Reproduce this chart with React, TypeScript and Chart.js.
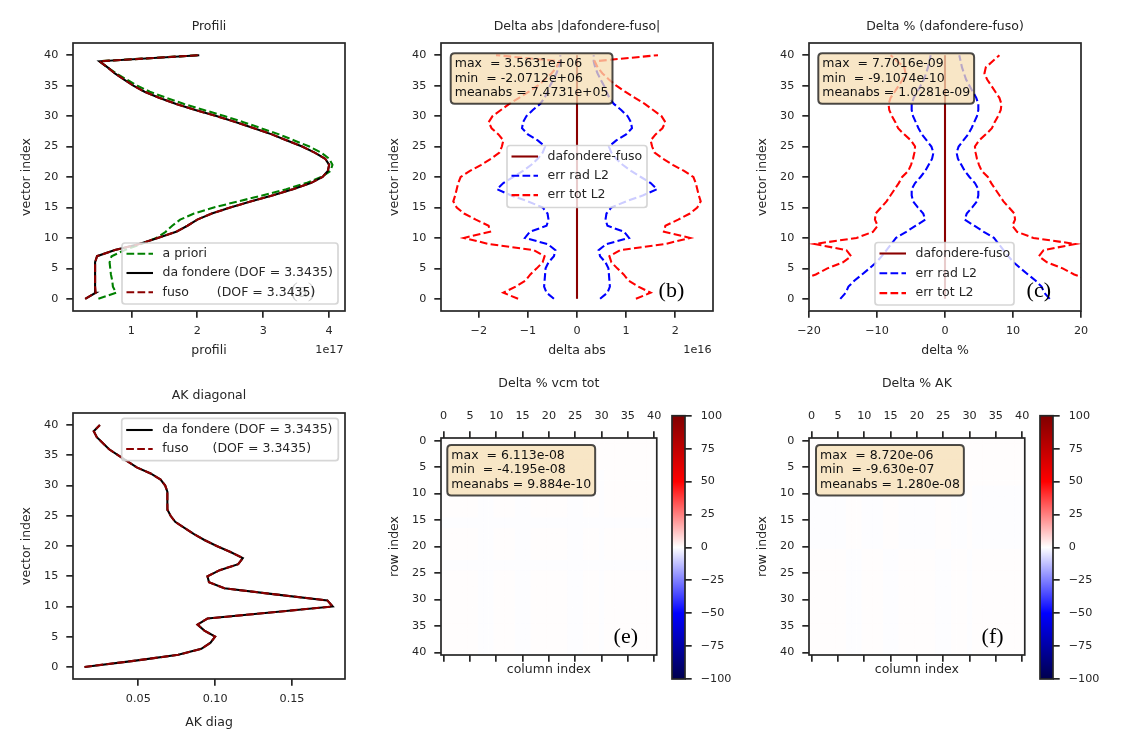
import React, { useEffect, useRef } from 'react';
import { Chart, registerables } from 'chart.js';

Chart.register(...registerables);

const SANS = "'DejaVu Sans', 'Liberation Sans', sans-serif";
const SERIF = "'Liberation Serif', 'DejaVu Serif', serif";
const INK = '#262626';
const TICK_SIZE = 11.2;
const TEXT_SIZE = 12.5;
const LINE_W = 2.08;
const DASH = [7.7, 3.3];
const TICK_LEN = 6.7;
const SPINE_W = 1.7;

const GREEN = '#008000';
const BLACK = '#000000';
const DARKRED = '#8b0000';
const BLUE = '#0000ff';
const RED = '#ff0000';

// ---------------- data ----------------
const vectorIndex = [0, 1, 2, 3, 4, 5, 6, 7, 8, 9, 10, 11, 12, 13, 14, 15, 16, 17, 18, 19, 20,
  21, 22, 23, 24, 25, 26, 27, 28, 29, 30, 31, 32, 33, 34, 35, 36, 37, 38, 39, 40];

// profiles, units of 1e17
const profAPriori = [0.50, 0.77, 0.72, 0.71, 0.69, 0.68, 0.67, 0.70, 0.90, 1.15, 1.38, 1.52, 1.62, 1.74, 1.95,
  2.25, 2.62, 3.00, 3.35, 3.65, 3.88, 4.02, 4.05, 4.00, 3.88, 3.70, 3.47, 3.24, 2.97, 2.70, 2.41, 2.10, 1.80,
  1.53, 1.28, 1.09, 0.93, 0.77, 0.64, 0.515, 2.03];
const profDaFondere = [0.30, 0.46, 0.45, 0.45, 0.45, 0.45, 0.45, 0.48, 0.75, 1.12, 1.40, 1.68, 1.85, 2.00, 2.22,
  2.50, 2.82, 3.15, 3.45, 3.72, 3.90, 3.98, 4.00, 3.94, 3.78, 3.59, 3.36, 3.13, 2.86, 2.59, 2.29, 1.97, 1.68,
  1.42, 1.20, 1.03, 0.89, 0.75, 0.64, 0.515, 2.03];
const profFuso = [0.30, 0.46, 0.45, 0.45, 0.45, 0.45, 0.45, 0.48, 0.75, 1.12, 1.40, 1.68, 1.85, 2.00, 2.22,
  2.50, 2.82, 3.15, 3.45, 3.72, 3.90, 3.98, 4.00, 3.94, 3.78, 3.59, 3.36, 3.13, 2.86, 2.59, 2.29, 1.97, 1.68,
  1.42, 1.20, 1.03, 0.89, 0.75, 0.64, 0.515, 2.03];

// dafondere - fuso (absolute, molec units) and errors (units of 1e16)
const diffAbs = [1.2e5, -3.4e5, 2.1e5, 5.5e5, -1.8e5, 4.0e5, 7.7e5, -6.1e5, 9.8e5, 3.5631e6, -2.0712e6, 1.45e6,
  -8.2e5, 6.4e5, -3.9e5, 1.1e6, -5.6e5, 2.8e5, 8.9e5, -1.3e6, 7.1e5, -4.4e5, 3.3e5, 9.0e5, -6.6e5, 5.2e5,
  -2.5e5, 1.9e5, 1.02e6, -7.8e5, 4.6e5, -3.1e5, 6.0e5, -9.3e5, 2.2e5, 8.1e5, -5.0e5, 3.7e5, -1.5e5, 6.9e5, 2.6e5];
const errRadAbs = [0.47, 0.62, 0.67, 0.66, 0.65, 0.64, 0.58, 0.47, 0.44, 0.60, 1.06, 0.96, 0.62, 0.58, 0.60,
  0.70, 1.00, 1.35, 1.63, 1.50, 1.30, 1.10, 0.93, 0.80, 0.70, 0.65, 0.80, 1.00, 1.12, 1.10, 1.03, 0.90, 0.75,
  0.66, 0.60, 0.55, 0.48, 0.42, 0.37, 0.34, 0.34];
const errTotAbs = [1.20, 1.50, 1.25, 1.05, 0.95, 0.82, 0.70, 0.66, 0.88, 1.80, 2.30, 1.77, 1.80, 2.06, 2.30,
  2.45, 2.52, 2.48, 2.45, 2.42, 2.37, 2.18, 1.95, 1.75, 1.58, 1.53, 1.50, 1.60, 1.74, 1.80, 1.72, 1.55, 1.38,
  1.18, 0.98, 0.80, 0.65, 0.52, 0.42, 0.36, 1.65];

// dafondere - fuso in % and errors in %
const diffPct = [1.1e-9, 4.2e-10, -3.0e-10, 8.5e-10, 2.2e-10, 1.6e-9, 7.7016e-9, 3.3e-10, -9.1074e-10, 5.1e-10,
  1.3e-9, -2.4e-10, 6.6e-10, 9.2e-10, -4.8e-10, 1.9e-9, 7.4e-10, -1.2e-10, 3.9e-10, 1.05e-9, -6.3e-10, 2.7e-10,
  8.8e-10, -3.6e-10, 5.9e-10, 1.4e-9, -7.1e-10, 2.0e-10, 9.6e-10, -5.4e-10, 4.4e-10, 1.2e-9, -2.9e-10, 6.1e-10,
  8.0e-10, -4.1e-10, 3.1e-10, 1.7e-9, -6.8e-10, 5.0e-10, 2.5e-10];
const errRadPct = [15.4, 14.6, 14.2, 13.3, 12.2, 11.1, 10.1, 9.3, 8.6, 7.9, 7.2, 5.7, 4.3, 2.9, 3.2, 4.0, 4.7,
  4.9, 4.9, 4.4, 3.6, 2.9, 2.4, 1.9, 1.7, 2.0, 2.7, 3.4, 3.9, 4.3, 4.7, 4.9, 4.9, 4.6, 4.1, 3.6, 3.1, 2.8,
  2.5, 2.3, 2.1];
const errTotPct = [32.0, 29.0, 25.0, 21.5, 19.0, 17.3, 15.0, 13.8, 14.5, 19.2, 13.0, 10.6, 9.9, 10.3, 10.2, 9.4,
  8.6, 8.0, 7.4, 6.8, 6.3, 5.4, 5.0, 4.7, 4.5, 4.4, 5.0, 6.0, 6.9, 7.3, 7.8, 8.2, 8.3, 8.0, 7.4, 6.8, 6.2,
  5.8, 6.0, 7.0, 8.0];

// averaging kernel diagonal
const akDaFondere = [0.015, 0.047, 0.076, 0.091, 0.097, 0.100, 0.093, 0.0885, 0.095, 0.136, 0.1765, 0.173,
  0.139, 0.106, 0.096, 0.095, 0.103, 0.115, 0.118, 0.110, 0.101, 0.093, 0.086, 0.080, 0.074, 0.071, 0.069,
  0.0689, 0.0689, 0.0689, 0.0675, 0.0645, 0.058, 0.049, 0.043, 0.037, 0.031, 0.027, 0.023, 0.021, 0.025];
const akFuso = [0.015, 0.047, 0.076, 0.091, 0.097, 0.100, 0.093, 0.0885, 0.095, 0.136, 0.1765, 0.173,
  0.139, 0.106, 0.096, 0.095, 0.103, 0.115, 0.118, 0.110, 0.101, 0.093, 0.086, 0.080, 0.074, 0.071, 0.069,
  0.0689, 0.0689, 0.0689, 0.0675, 0.0645, 0.058, 0.049, 0.043, 0.037, 0.031, 0.027, 0.023, 0.021, 0.025];

// tick values
const profTicks = [1, 2, 3, 4];
const absTicks = [-2, -1, 0, 1, 2];
const pctTicks = [-20, -10, 0, 10, 20];
const akTicks = [0.05, 0.1, 0.15];
const indexTicks = [0, 5, 10, 15, 20, 25, 30, 35, 40];
const cbarTicks = [-100, -75, -50, -25, 0, 25, 50, 75, 100];

// statistics text
const statsAbs = ['max  = 3.5631e+06', 'min  = -2.0712e+06', 'meanabs = 7.4731e+05'];
const statsPct = ['max  = 7.7016e-09', 'min  = -9.1074e-10', 'meanabs = 1.0281e-09'];
const statsVcm = ['max  = 6.113e-08', 'min  = -4.195e-08', 'meanabs = 9.884e-10'];
const statsAk = ['max  = 8.720e-06', 'min  = -9.630e-07', 'meanabs = 1.280e-08'];

// sign of the (tiny) % differences in the 41x41 matrices: '+' positive, '-' negative
const ROW_P = '+++++++++++++++++++++++++++++++++++++++++';
const ROW_M = '-----------------------------------------';
const ROW_C = '+++++++---++++---+++++++---+++-++++++++++';
const ROW_D = '-------+++----+++-------+++---+----------';
const vcmTotSign = [ROW_P, ROW_P, ROW_P, ROW_P, ROW_P, ROW_P, ROW_C, ROW_C, ROW_C, ROW_C, ROW_C, ROW_C, ROW_C,
  ROW_C, ROW_C, ROW_M, ROW_M, ROW_C, ROW_C, ROW_C, ROW_C, ROW_C, ROW_C, ROW_M, ROW_M, ROW_C, ROW_C, ROW_C,
  ROW_C, ROW_C, ROW_C, ROW_C, ROW_C, ROW_C, ROW_C, ROW_C, ROW_C, ROW_C, ROW_C, ROW_C, ROW_C];
const akSign = [ROW_P, ROW_P, ROW_P, ROW_P, ROW_P, ROW_P, ROW_P, ROW_P, ROW_P, ROW_D, ROW_D, ROW_D, ROW_D,
  ROW_D, ROW_D, ROW_D, ROW_D, ROW_D, ROW_D, ROW_D, ROW_D, ROW_C, ROW_C, ROW_C, ROW_C, ROW_C, ROW_C, ROW_C,
  ROW_C, ROW_C, ROW_C, ROW_C, ROW_C, ROW_C, ROW_C, ROW_C, ROW_C, ROW_C, ROW_C, ROW_C, ROW_C];

// seismic colormap anchors
const seismicStops = [
  [0.0, 0.0, 0.0, 0.3],
  [0.25, 0.0, 0.0, 1.0],
  [0.5, 1.0, 1.0, 1.0],
  [0.75, 1.0, 0.0, 0.0],
  [1.0, 0.5, 0.0, 0.0],
];

// ---------------- helpers ----------------
function seismic(t: number) {
  const idx = Math.min(255, Math.max(0, Math.floor(t * 256)));
  const x = idx / 255;
  for (let i = 0; i < seismicStops.length - 1; i++) {
    const a = seismicStops[i], b = seismicStops[i + 1];
    if (x >= a[0] && x <= b[0]) {
      const f = (x - a[0]) / (b[0] - a[0]);
      const c = [1, 2, 3].map((k) => Math.round(255 * (a[k] + (b[k] - a[k]) * f)));
      return `rgb(${c[0]},${c[1]},${c[2]})`;
    }
  }
  return 'rgb(255,255,255)';
}

function fmt(v: number, digits: number) {
  const s = Math.abs(v).toFixed(digits);
  return (v < 0 ? '\u2212' : '') + s;
}

function axis(s: any) {
  const horizontal = s.position === 'top' || s.position === 'bottom';
  const cfg: any = {
    type: 'linear',
    position: s.position,
    min: s.min,
    max: s.max,
    reverse: !!s.reverse,
    afterBuildTicks: (sc: any) => { sc.ticks = s.ticks.map((v: number) => ({ value: v })); },
    afterFit: (sc: any) => { if (horizontal) sc.height = s.size; else sc.width = s.size; },
    grid: {
      display: true, drawOnChartArea: false, drawTicks: true, tickLength: TICK_LEN,
      tickWidth: SPINE_W, tickColor: INK, color: INK, lineWidth: SPINE_W,
    },
    border: { display: false },
    ticks: {
      display: s.labels !== false, autoSkip: false, maxRotation: 0, minRotation: 0,
      padding: s.labelPad ?? 8, color: INK, font: { family: SANS, size: TICK_SIZE },
      callback: (v: any) => fmt(Number(v), s.digits ?? 0),
    },
    title: s.title
      ? {
        display: true, text: s.title, color: INK, font: { family: SANS, size: TEXT_SIZE },
        padding: horizontal ? { top: 0, bottom: s.titlePad } : { top: s.titlePad, bottom: 0 },
      }
      : { display: false },
  };
  if (s.axisId) cfg.axis = s.axisId;
  return cfg;
}

function lineDs(label: string, xs: number[], color: string, dashed: boolean, order: number) {
  return {
    label,
    data: vectorIndex.map((y, i) => ({ x: xs[i], y })),
    borderColor: color,
    backgroundColor: color,
    borderWidth: LINE_W,
    borderDash: dashed ? DASH : [],
    pointRadius: 0,
    tension: 0,
    fill: false,
    order,
  };
}

function baseOptions(padding: any, scales: any) {
  return {
    responsive: false,
    animation: false,
    events: [],
    layout: { padding, autoPadding: false },
    plugins: { legend: { display: false }, tooltip: { enabled: false }, title: { display: false } },
    scales,
  };
}

function roundRectPath(ctx: any, x: number, y: number, w: number, h: number, r: number) {
  ctx.beginPath();
  ctx.moveTo(x + r, y);
  ctx.lineTo(x + w - r, y);
  ctx.quadraticCurveTo(x + w, y, x + w, y + r);
  ctx.lineTo(x + w, y + h - r);
  ctx.quadraticCurveTo(x + w, y + h, x + w - r, y + h);
  ctx.lineTo(x + r, y + h);
  ctx.quadraticCurveTo(x, y + h, x, y + h - r);
  ctx.lineTo(x, y + r);
  ctx.quadraticCurveTo(x, y, x + r, y);
  ctx.closePath();
}

const framePlugin = {
  id: 'frame',
  afterDatasetsDraw(chart: any) {
    const { ctx, chartArea: a } = chart;
    ctx.save();
    ctx.strokeStyle = INK;
    ctx.lineWidth = SPINE_W;
    ctx.strokeRect(a.left, a.top, a.right - a.left, a.bottom - a.top);
    ctx.restore();
  },
};

function decorPlugin(d: any) {
  return {
    id: 'decor',
    afterDraw(chart: any) {
      const { ctx, chartArea: a } = chart;
      const w = a.right - a.left, h = a.bottom - a.top;
      ctx.save();
      if (d.title) {
        ctx.fillStyle = INK;
        ctx.font = `${TEXT_SIZE}px ${SANS}`;
        ctx.textAlign = 'center';
        ctx.textBaseline = 'middle';
        ctx.fillText(d.title, (a.left + a.right) / 2, a.top - d.titleGap);
      }
      if (d.offsetText) {
        ctx.fillStyle = INK;
        ctx.font = `${TICK_SIZE}px ${SANS}`;
        ctx.textAlign = 'right';
        ctx.textBaseline = 'middle';
        ctx.fillText(d.offsetText, a.right - 1.5, a.bottom + 39);
      }
      if (d.panelLabel) {
        ctx.fillStyle = '#000';
        ctx.font = `22px ${SERIF}`;
        ctx.textAlign = 'left';
        ctx.textBaseline = 'alphabetic';
        ctx.fillText(d.panelLabel, a.left + 0.8 * w, a.bottom - 0.035 * h - 4.8);
      }
      if (d.stats) {
        ctx.font = `${TEXT_SIZE}px ${SANS}`;
        const tw = Math.max(...d.stats.map((s: string) => ctx.measureText(s).width));
        const bx = a.left + d.statsPos[0], by = a.top + d.statsPos[1];
        const bw = tw + 8, bh = 50.5;
        roundRectPath(ctx, bx, by, bw, bh, 4);
        ctx.fillStyle = 'rgba(245,222,179,0.75)';
        ctx.fill();
        ctx.lineWidth = 2;
        ctx.strokeStyle = 'rgba(0,0,0,0.7)';
        ctx.stroke();
        ctx.fillStyle = '#111';
        ctx.textAlign = 'left';
        ctx.textBaseline = 'middle';
        d.stats.forEach((s: string, i: number) => ctx.fillText(s, bx + 4, by + 10.5 + i * 14.7));
      }
      if (d.legend) {
        const L = d.legend;
        const bx = a.left + L.x, by = a.top + L.y;
        roundRectPath(ctx, bx, by, L.w, L.h, 3);
        ctx.fillStyle = 'rgba(255,255,255,0.8)';
        ctx.fill();
        ctx.lineWidth = 1.7;
        ctx.strokeStyle = 'rgba(204,204,204,0.8)';
        ctx.stroke();
        L.items.forEach((it: any, i: number) => {
          const cy = by + L.row0 + i * L.rowH;
          ctx.beginPath();
          ctx.setLineDash(it.dashed ? DASH : []);
          ctx.strokeStyle = it.color;
          ctx.lineWidth = LINE_W;
          ctx.moveTo(bx + 4.5, cy);
          ctx.lineTo(bx + 31, cy);
          ctx.stroke();
          ctx.setLineDash([]);
          ctx.fillStyle = INK;
          ctx.font = `${TEXT_SIZE}px ${SANS}`;
          ctx.textAlign = 'left';
          ctx.textBaseline = 'middle';
          ctx.fillText(it.label, bx + 40.5, cy);
        });
      }
      ctx.restore();
    },
  };
}

function heatPlugin(signRows: string[]) {
  return {
    id: 'heat',
    beforeDatasetsDraw(chart: any) {
      const { ctx, chartArea: a } = chart;
      const xs = chart.scales.x, ys = chart.scales.y;
      ctx.save();
      ctx.beginPath();
      ctx.rect(a.left, a.top, a.right - a.left, a.bottom - a.top);
      ctx.clip();
      signRows.forEach((row, r) => {
        for (let c = 0; c < vectorIndex.length; c++) {
          const ch = row[c] || '-';
          const v = ch === '+' ? 1e-8 : -1e-8;
          ctx.fillStyle = seismic((v + 100) / 200);
          const x0 = xs.getPixelForValue(vectorIndex[c] - 0.5), x1 = xs.getPixelForValue(vectorIndex[c] + 0.5);
          const y0 = ys.getPixelForValue(vectorIndex[r] - 0.5), y1 = ys.getPixelForValue(vectorIndex[r] + 0.5);
          ctx.fillRect(Math.min(x0, x1), Math.min(y0, y1), Math.abs(x1 - x0) + 0.6, Math.abs(y1 - y0) + 0.6);
        }
      });
      ctx.restore();
    },
  };
}

// ---------------- chart configs ----------------
const YTITLE_GAP = 46;
const yTitlePad = (size: number) => size - YTITLE_GAP - (TEXT_SIZE * 1.2) / 2;

function configA() {
  return {
    type: 'line',
    data: {
      datasets: [
        lineDs('a priori', profAPriori, GREEN, true, 3),
        lineDs('da fondere (DOF = 3.3435)', profDaFondere, BLACK, false, 2),
        lineDs('fuso       (DOF = 3.3435)', profFuso, DARKRED, true, 1),
      ],
    },
    options: baseOptions({ top: 28, right: 15, bottom: 0, left: 0 }, {
      x: axis({ position: 'bottom', min: 0.115, max: 4.24, ticks: profTicks, size: 54, labelPad: 7, title: 'profili', titlePad: 6.5 }),
      y: axis({ position: 'left', min: -2, max: 42, ticks: indexTicks, size: 73, title: 'vector index', titlePad: yTitlePad(73) }),
    }),
    plugins: [framePlugin, decorPlugin({
      title: 'Profili', titleGap: 16.5, offsetText: '1e17', panelLabel: '(a)',
      legend: {
        x: 49, y: 200, w: 216, h: 61, row0: 10.7, rowH: 19.3,
        items: [
          { label: 'a priori', color: GREEN, dashed: true },
          { label: 'da fondere (DOF = 3.3435)', color: BLACK, dashed: false },
          { label: 'fuso       (DOF = 3.3435)', color: DARKRED, dashed: true },
        ],
      },
    })],
  };
}

function errPanel(diff: number[], diffScale: number, rad: number[], tot: number[], xmin: number, xmax: number,
  ticks: number[], xTitle: string, yAxisSize: number, padRight: number, deco: any) {
  return {
    type: 'line',
    data: {
      datasets: [
        lineDs('dafondere-fuso', diff.map((v) => v / diffScale), DARKRED, false, 5),
        lineDs('err rad L2', rad, BLUE, true, 4),
        lineDs('err rad L2 (-)', rad.map((v) => -v), BLUE, true, 3),
        lineDs('err tot L2', tot, RED, true, 2),
        lineDs('err tot L2 (-)', tot.map((v) => -v), RED, true, 1),
      ],
    },
    options: baseOptions({ top: 28, right: padRight, bottom: 0, left: 0 }, {
      x: axis({ position: 'bottom', min: xmin, max: xmax, ticks, size: 54, labelPad: 7, title: xTitle, titlePad: 6.5 }),
      y: axis({ position: 'left', min: -2, max: 42, ticks: indexTicks, size: yAxisSize, title: 'vector index', titlePad: yTitlePad(yAxisSize) }),
    }),
    plugins: [framePlugin, decorPlugin(deco)],
  };
}

const errLegendItems = [
  { label: 'dafondere-fuso', color: DARKRED, dashed: false },
  { label: 'err rad L2', color: BLUE, dashed: true },
  { label: 'err tot L2', color: RED, dashed: true },
];

function configB() {
  return errPanel(diffAbs, 1e16, errRadAbs, errTotAbs, -2.77, 2.77, absTicks, 'delta abs', 71, 17, {
    title: 'Delta abs |dafondere-fuso|', titleGap: 16.5, offsetText: '1e16', panelLabel: '(b)',
    stats: statsAbs, statsPos: [9.7, 10.3],
    legend: { x: 66, y: 102.5, w: 140, h: 62, row0: 11, rowH: 19.3, items: errLegendItems },
  });
}

function configC() {
  return errPanel(diffPct, 1, errRadPct, errTotPct, -20, 20, pctTicks, 'delta %', 69, 19, {
    title: 'Delta % (dafondere-fuso)', titleGap: 16.5, panelLabel: '(c)',
    stats: statsPct, statsPos: [9.3, 10.3],
    legend: { x: 66, y: 199.5, w: 139, h: 62.5, row0: 11, rowH: 19.8, items: errLegendItems },
  });
}

function configD() {
  return {
    type: 'line',
    data: {
      datasets: [
        lineDs('da fondere (DOF = 3.3435)', akDaFondere, BLACK, false, 2),
        lineDs('fuso      (DOF = 3.3435)', akFuso, DARKRED, true, 1),
      ],
    },
    options: baseOptions({ top: 28, right: 15, bottom: 0, left: 0 }, {
      x: axis({ position: 'bottom', min: 0.0075, max: 0.1845, ticks: akTicks, digits: 2, size: 56, labelPad: 7, title: 'AK diag', titlePad: 5 }),
      y: axis({ position: 'left', min: -2, max: 42, ticks: indexTicks, size: 73, title: 'vector index', titlePad: yTitlePad(73) }),
    }),
    plugins: [framePlugin, decorPlugin({
      title: 'AK diagonal', titleGap: 17,
      legend: {
        x: 48.7, y: 5.3, w: 216.6, h: 42.4, row0: 11.7, rowH: 19,
        items: [
          { label: 'da fondere (DOF = 3.3435)', color: BLACK, dashed: false },
          { label: 'fuso      (DOF = 3.3435)', color: DARKRED, dashed: true },
        ],
      },
    })],
  };
}

function heatConfig(signRows: string[], title: string, stats: string[], label: string, statsPos: number[]) {
  return {
    type: 'scatter',
    data: { datasets: [{ data: [] as any[] }] },
    options: baseOptions({ top: 0, right: 12, bottom: 5, left: 0 }, {
      x: axis({ position: 'top', min: -0.5, max: 40.5, ticks: indexTicks, size: 68, labelPad: 8.6 }),
      x2: axis({ position: 'bottom', axisId: 'x', min: -0.5, max: 40.5, ticks: indexTicks, size: 30, labels: false, title: 'column index', titlePad: 7.5 }),
      y: axis({ position: 'left', min: -0.5, max: 40.5, reverse: true, ticks: indexTicks, size: 71, title: 'row index', titlePad: yTitlePad(71) }),
    }),
    plugins: [heatPlugin(signRows), framePlugin, decorPlugin({
      title, titleGap: 54, panelLabel: label, stats, statsPos,
    })],
  };
}

function colorbarConfig() {
  return {
    type: 'bar',
    data: {
      labels: [''],
      datasets: [{
        data: [[cbarTicks[0], cbarTicks[cbarTicks.length - 1]]],
        backgroundColor: (c: any) => {
          const area = c.chart.chartArea;
          if (!area) return '#ffffff';
          const g = c.chart.ctx.createLinearGradient(0, area.bottom, 0, area.top);
          seismicStops.forEach((s) => g.addColorStop(s[0], `rgb(${Math.round(s[1] * 255)},${Math.round(s[2] * 255)},${Math.round(s[3] * 255)})`));
          return g;
        },
        borderWidth: 0,
        borderSkipped: false,
        categoryPercentage: 1,
        barPercentage: 1,
      }],
    },
    options: baseOptions({ top: 13, right: 0, bottom: 16, left: 7 }, {
      x: { type: 'category', display: false },
      y: axis({ position: 'right', min: -100, max: 100, ticks: cbarTicks, size: 60, labelPad: 9 }),
    }),
    plugins: [framePlugin],
  };
}

// ---------------- components ----------------
function ChartCanvas({ left, top, width, height, make }: any) {
  const ref = useRef<HTMLCanvasElement>(null);
  useEffect(() => {
    const chart = new Chart(ref.current as HTMLCanvasElement, make());
    return () => chart.destroy();
  }, []);
  return (
    <canvas
      ref={ref}
      width={width}
      height={height}
      style={{ position: 'absolute', left, top, width, height }}
    />
  );
}

export default function App() {
  return (
    <div style={{ position: 'absolute', left: 0, top: 0, width: 1125, height: 750, background: '#ffffff', overflow: 'hidden' }}>
      <ChartCanvas left={0} top={15} width={360} height={350} make={configA} />
      <ChartCanvas left={370} top={15} width={360} height={350} make={configB} />
      <ChartCanvas left={740} top={15} width={360} height={350} make={configC} />
      <ChartCanvas left={0} top={385} width={360} height={350} make={configD} />
      <ChartCanvas left={370} top={370} width={300} height={320} make={() => heatConfig(vcmTotSign, 'Delta % vcm tot', statsVcm, '(e)', [6.3, 7])} />
      <ChartCanvas left={665} top={400} width={80} height={295} make={colorbarConfig} />
      <ChartCanvas left={738} top={370} width={300} height={320} make={() => heatConfig(akSign, 'Delta % AK', statsAk, '(f)', [7, 7])} />
      <ChartCanvas left={1033} top={400} width={80} height={295} make={colorbarConfig} />
    </div>
  );
}
